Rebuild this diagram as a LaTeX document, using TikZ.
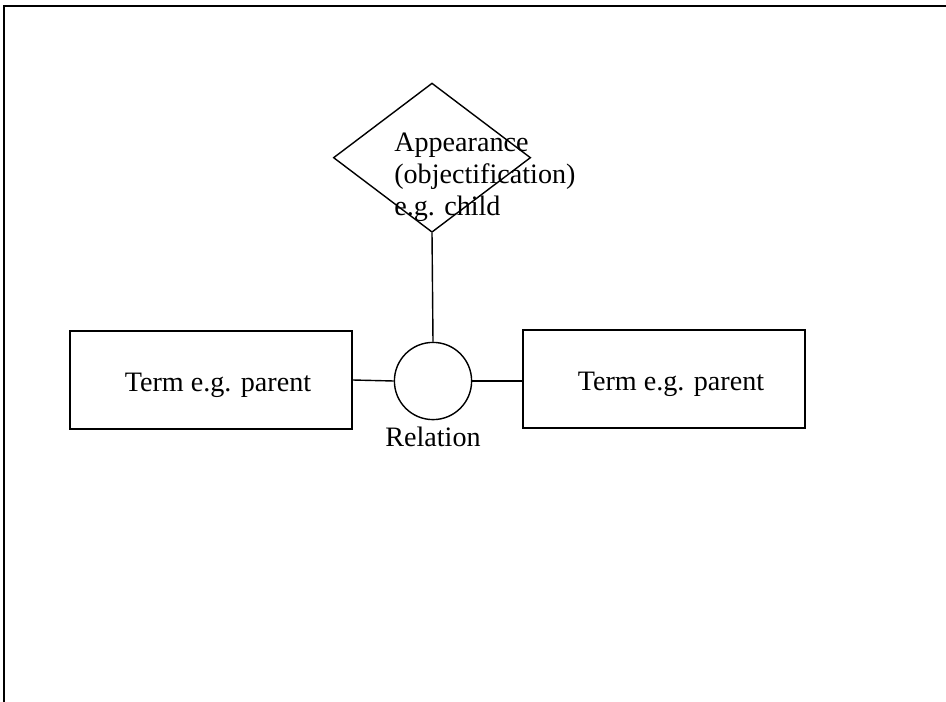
\documentclass[tikz,border=0pt]{standalone}
\usepackage{fontspec}
\setmainfont{Liberation Serif}
\usetikzlibrary{calc, shapes.geometric}

\begin{document}
\begin{tikzpicture}[x=0.025cm, y=-0.025cm,
    TRM/.style={rectangle, draw=black, line width=1pt, minimum width=7.05cm, minimum height=2.44cm, text height=0.75cm, font=\fontsize{20}{24}\selectfont, execute at begin node={\hspace*{0.35cm}}},
    REL/.style={circle, draw=black, line width=1pt, minimum size=1.93cm, inner sep=0pt},
    APR/.style={diamond, draw=black, line width=1pt, minimum width=4.93cm, minimum height=3.73cm, inner sep=0pt},
    TXT/.style={inner sep=0pt, font=\fontsize{20}{22.8}\selectfont}
    ]
        \useasboundingbox (0,0) rectangle (946,702);
        % page frame
        \draw[line width=1.6pt] (4,702) -- (4,6) -- (946,6);
        \node[REL] (R) at (433,381) {};
        \node[TXT, anchor=north] (RL) at ($(R.south)+(0,6)$) {Relation};
        \node[TRM] (T1) at ($(R)+(-222,-1)$) {Term e.g. parent};
        \node[TRM] (T2) at ($(R)+(231,-2)$) {Term e.g. parent};
        \node[APR] (A) at ($(R.north)+(-1,-184)$) {};
        \node[TXT, align=left, anchor=north west] (AT) at ($(A.center)+(-38,-25)$) {Appearance\\(objectification)\\e.g. child};
        \draw[line width=1pt] (T1.east) -- (R.west);
        \draw[line width=1pt] (R.east) -- (T2.west |- R.east);
        \draw[line width=1pt] (R.north) -- (A.south);
    \end{tikzpicture}
\end{document}
